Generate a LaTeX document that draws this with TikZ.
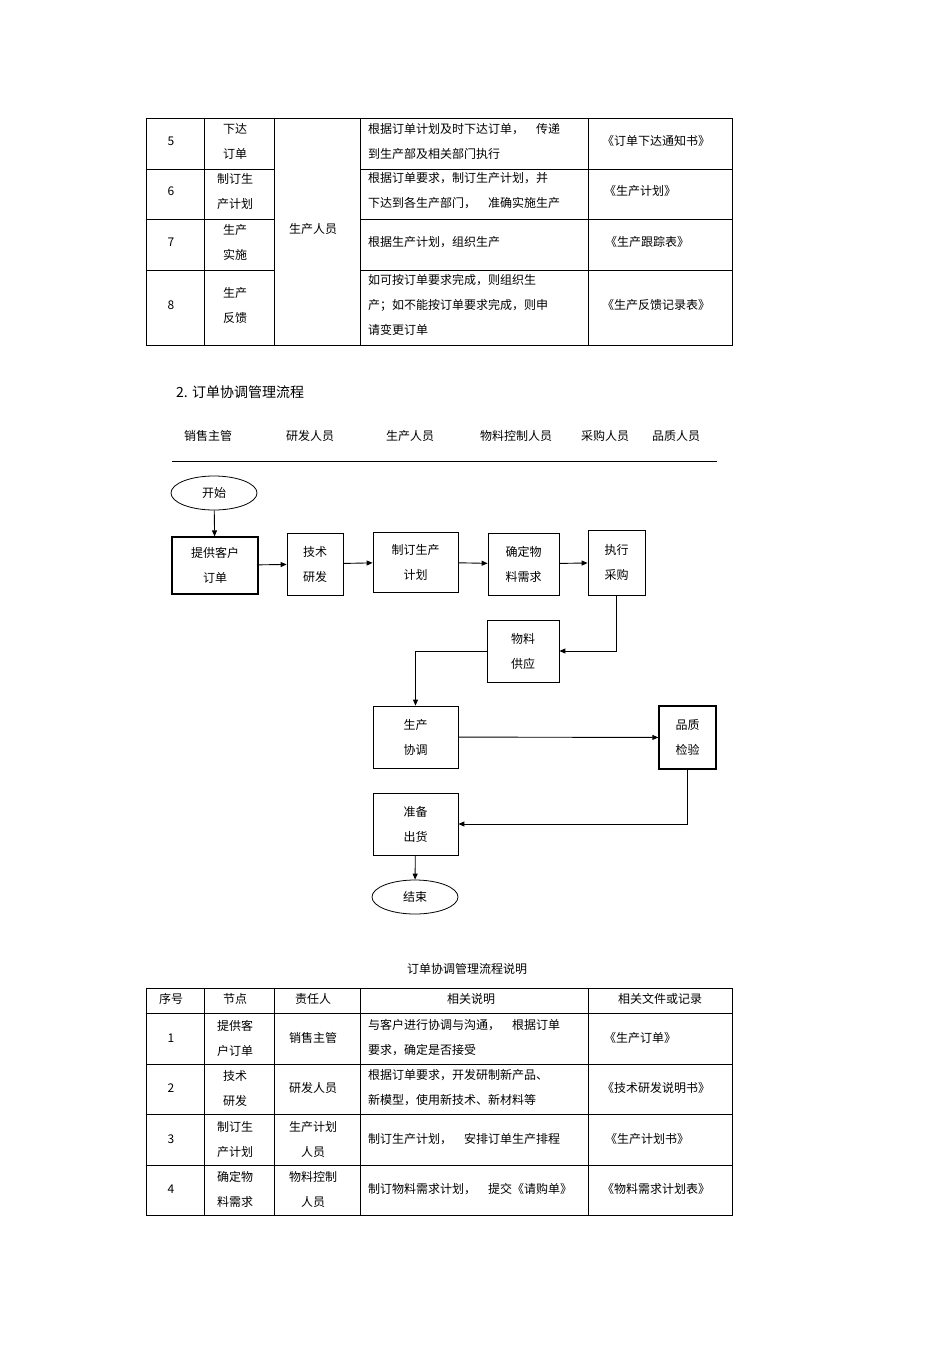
\documentclass[tikz,border=0pt]{standalone}
\usepackage{fontspec}
\setmainfont{Noto Sans CJK SC}
\usetikzlibrary{arrows.meta,shapes.geometric}
\begin{document}
\begin{tikzpicture}[x=1pt,y=-1pt,
  t/.style={font=\fontsize{12}{25}\selectfont,align=center,inner sep=0},
  tl/.style={font=\fontsize{12}{25}\selectfont,align=left,inner sep=0,anchor=west},
  box/.style={draw,line width=0.8pt,font=\fontsize{12}{25}\selectfont,align=center,inner sep=0},
  ell/.style={draw,ellipse,line width=0.8pt,minimum width=86pt,minimum height=34pt,font=\fontsize{12}{14}\selectfont,inner sep=0},
  arr/.style={-{Triangle[length=6pt,width=5pt]},line width=0.9pt},
  tab/.style={line width=0.6pt}]
\useasboundingbox (0,0) rectangle (950,1345);
% Table 1
\draw[tab] (146,118) rectangle (732,345);
\foreach \x in {204,274,360,588} \draw[tab] (\x,118) -- (\x,345);
\foreach \y in {169,219,270} {\draw[tab] (146,\y) -- (274,\y); \draw[tab] (360,\y) -- (732,\y);}
\node[t] (a5) at (171,141) {5};
\node[t] (b5) at (235,141) {下达\\订单};
\node[t] (c5) at (313,229) {生产人员};
\node[tl] (d5) at (368,141) {根据订单计划及时下达订单，\quad 传递\\到生产部及相关部门执行};
\node[t] (e5) at (656,141) {《订单下达通知书》};
\node[t] (a6) at (171,191) {6};
\node[t] (b6) at (235,191) {制订生\\产计划};
\node[tl] (d6) at (368,191) {根据订单要求，制订生产计划，并\\下达到各生产部门，\quad 准确实施生产};
\node[t] (e6) at (640,191) {《生产计划》};
\node[t] (a7) at (171,242) {7};
\node[t] (b7) at (235,242) {生产\\实施};
\node[tl] (d7) at (368,242) {根据生产计划，组织生产};
\node[t] (e7) at (647,242) {《生产跟踪表》};
\node[t] (a8) at (171,305) {8};
\node[t] (b8) at (235,305) {生产\\反馈};
\node[tl] (d8) at (368,305) {如可按订单要求完成，则组织生\\产；如不能按订单要求完成，则申\\请变更订单};
\node[t] (e8) at (656,305) {《生产反馈记录表》};
% Title
\node[t,anchor=west,font=\fontsize{14}{16}\selectfont] (title) at (176,392) {2. 订单协调管理流程};
\node[t] (h1) at (208,436) {销售主管};
\node[t] (h2) at (310,436) {研发人员};
\node[t] (h3) at (410,436) {生产人员};
\node[t] (h4) at (516,436) {物料控制人员};
\node[t] (h5) at (605,436) {采购人员};
\node[t] (h6) at (676,436) {品质人员};
\draw[line width=0.8pt] (172,461) -- (717,461);
% Flow
\node[ell] (start) at (214,493) {开始};
\node[box,minimum width=86pt,minimum height=57pt,line width=1.2pt] (n1) at (215,565.5) {提供客户\\订单};
\node[box,minimum width=56pt,minimum height=62pt] (n2) at (315,564) {技术\\研发};
\node[box,minimum width=85pt,minimum height=60pt] (n3) at (415.5,562) {制订生产\\计划};
\node[box,minimum width=71pt,minimum height=62pt] (n4) at (523.5,564) {确定物\\料需求};
\node[box,minimum width=57pt,minimum height=65pt] (n5) at (616.5,562.5) {执行\\采购};
\node[box,minimum width=72pt,minimum height=62pt] (n6) at (523,651) {物料\\供应};
\node[box,minimum width=85pt,minimum height=62pt] (n7) at (415.5,737) {生产\\协调};
\node[box,minimum width=57pt,minimum height=63pt,line width=1.4pt] (n8) at (687.5,737.5) {品质\\检验};
\node[box,minimum width=85pt,minimum height=62pt] (n9) at (415.5,824) {准备\\出货};
\node[ell] (end) at (415,897) {结束};
\draw[arr] (start) -- (n1);
\draw[arr] (n1) -- (n2);
\draw[arr] (n2) -- (n3);
\draw[arr] (n3) -- (n4);
\draw[arr] (n4) -- (n5);
\draw[arr] (n5.south) |- (n6.east);
\draw[arr] (n6.west) -| (n7.north);
\draw[arr] (n7) -- (n8);
\draw[arr] (n8.south) |- (n9.east);
\draw[arr] (n9) -- (end);
% Caption
\node[t] (cap) at (467,969) {订单协调管理流程说明};
% Table 2
\draw[tab] (146,988) rectangle (732,1215);
\foreach \x in {204,274,360,588} \draw[tab] (\x,988) -- (\x,1215);
\foreach \y in {1013,1064,1114,1165} \draw[tab] (146,\y) -- (732,\y);
\node[t] (g1) at (171,999) {序号};
\node[t] (g2) at (235,999) {节点};
\node[t] (g3) at (313,999) {责任人};
\node[t] (g4) at (471,999) {相关说明};
\node[t] (g5) at (660,999) {相关文件或记录};
\node[t] (r1a) at (171,1038) {1};
\node[t] (r1b) at (235,1038) {提供客\\户订单};
\node[t] (r1c) at (313,1038) {销售主管};
\node[tl] (r1d) at (368,1038) {与客户进行协调与沟通，\quad 根据订单\\要求，确定是否接受};
\node[t] (r1e) at (640,1038) {《生产订单》};
\node[t] (r2a) at (171,1088) {2};
\node[t] (r2b) at (235,1088) {技术\\研发};
\node[t] (r2c) at (313,1088) {研发人员};
\node[tl] (r2d) at (368,1088) {根据订单要求，开发研制新产品、\\新模型，使用新技术、新材料等};
\node[t] (r2e) at (656,1088) {《技术研发说明书》};
\node[t] (r3a) at (171,1139) {3};
\node[t] (r3b) at (235,1139) {制订生\\产计划};
\node[t] (r3c) at (313,1139) {生产计划\\人员};
\node[tl] (r3d) at (368,1139) {制订生产计划，\quad 安排订单生产排程};
\node[t] (r3e) at (647,1139) {《生产计划书》};
\node[t] (r4a) at (171,1189) {4};
\node[t] (r4b) at (235,1189) {确定物\\料需求};
\node[t] (r4c) at (313,1189) {物料控制\\人员};
\node[tl] (r4d) at (368,1189) {制订物料需求计划，\quad 提交《请购单》};
\node[t] (r4e) at (656,1189) {《物料需求计划表》};
\end{tikzpicture}
\end{document}
